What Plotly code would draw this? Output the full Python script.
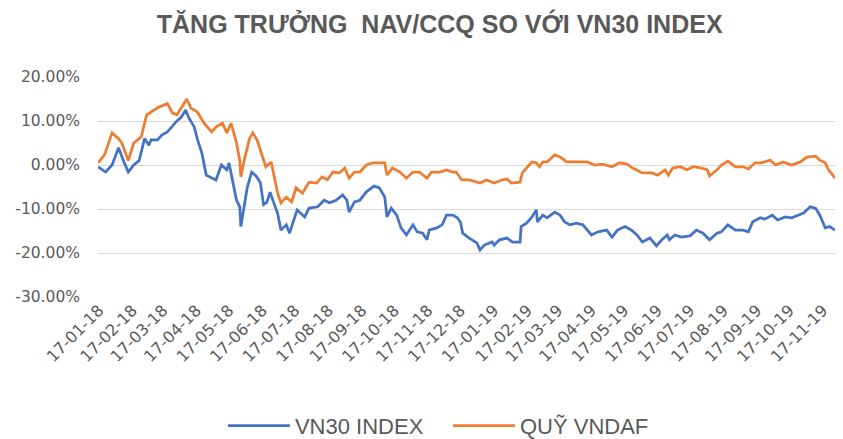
import plotly.graph_objects as go

# ---- data ----
vn30_dates = [
    "2018-01-16", "2018-01-23", "2018-01-29", "2018-02-04", "2018-02-09", "2018-02-13", "2018-02-18",
    "2018-02-23", "2018-02-28", "2018-03-04", "2018-03-06", "2018-03-12", "2018-03-16", "2018-03-21",
    "2018-03-25", "2018-03-29", "2018-04-03", "2018-04-07", "2018-04-10", "2018-04-15", "2018-04-18",
    "2018-04-22", "2018-04-26", "2018-05-01", "2018-05-05", "2018-05-10", "2018-05-15", "2018-05-17",
    "2018-05-20", "2018-05-24", "2018-05-27", "2018-05-28", "2018-05-31", "2018-06-03", "2018-06-07",
    "2018-06-11", "2018-06-15", "2018-06-18", "2018-06-21", "2018-06-24", "2018-06-28", "2018-07-01",
    "2018-07-04", "2018-07-09", "2018-07-12", "2018-07-16", "2018-07-19", "2018-07-26", "2018-07-30",
    "2018-08-07", "2018-08-13", "2018-08-18", "2018-08-24", "2018-08-30", "2018-09-03", "2018-09-05",
    "2018-09-10", "2018-09-15", "2018-09-21", "2018-09-28", "2018-10-03", "2018-10-08", "2018-10-10",
    "2018-10-14", "2018-10-19", "2018-10-23", "2018-10-28", "2018-11-03", "2018-11-07", "2018-11-12",
    "2018-11-16", "2018-11-18", "2018-11-25", "2018-11-30", "2018-12-04", "2018-12-10", "2018-12-14",
    "2018-12-17", "2018-12-19", "2018-12-25", "2019-01-01", "2019-01-04", "2019-01-08", "2019-01-15",
    "2019-01-17", "2019-01-22", "2019-01-29", "2019-02-03", "2019-02-10", "2019-02-11", "2019-02-16",
    "2019-02-21", "2019-02-25", "2019-02-26", "2019-03-03", "2019-03-07", "2019-03-14", "2019-03-19",
    "2019-03-23", "2019-03-28", "2019-04-03", "2019-04-09", "2019-04-17", "2019-04-23", "2019-05-01",
    "2019-05-06", "2019-05-11", "2019-05-18", "2019-05-24", "2019-05-29", "2019-06-03", "2019-06-10",
    "2019-06-16", "2019-06-21", "2019-06-26", "2019-06-28", "2019-07-03", "2019-07-09", "2019-07-17",
    "2019-07-23", "2019-07-29", "2019-08-04", "2019-08-11", "2019-08-15", "2019-08-21", "2019-08-28",
    "2019-09-04", "2019-09-09", "2019-09-13", "2019-09-20", "2019-09-24", "2019-10-01", "2019-10-06",
    "2019-10-13", "2019-10-19", "2019-10-25", "2019-10-30", "2019-11-05", "2019-11-10", "2019-11-14",
    "2019-11-19", "2019-11-23", "2019-11-28",
]
vn30_values = [
    -0.4, -1.6, 0.0, 3.9, 0.7, -1.6, 0.0,
    1.0, 6.0, 4.5, 5.7, 5.7, 6.8, 7.5,
    8.6, 9.8, 10.9, 12.5, 10.7, 8.6, 5.7,
    2.7, -2.3, -3.0, -3.4, 0.0, -1.1, 0.5,
    -3.4, -8.0, -9.5, -14.0, -9.5, -5.0, -1.6,
    -2.5, -4.0, -9.0, -8.5, -6.2, -9.0, -11.0,
    -14.8, -13.6, -15.5, -12.5, -10.2, -11.8, -9.8,
    -9.5, -8.0, -8.6, -8.0, -6.8, -8.0, -10.7,
    -8.4, -8.0, -6.1, -4.8, -5.2, -7.3, -11.8,
    -9.8, -11.4, -14.3, -15.9, -13.6, -15.2, -15.5,
    -17.0, -14.8, -14.3, -13.6, -11.4, -11.4, -12.0,
    -13.0, -15.5, -16.6, -17.7, -19.3, -18.2, -17.5,
    -18.2, -17.0, -16.6, -17.5, -17.5, -14.0, -13.2,
    -11.8, -10.2, -12.9, -11.4, -12.0, -10.7, -11.4,
    -12.9, -13.6, -13.2, -13.6, -15.9, -15.2, -14.8,
    -16.4, -14.8, -14.0, -14.8, -15.9, -17.5, -16.6,
    -18.4, -17.0, -15.9, -17.0, -15.9, -16.4, -16.1,
    -14.8, -15.5, -17.0, -15.5, -15.2, -13.6, -14.8,
    -14.8, -15.2, -12.9, -12.0, -12.3, -11.4, -12.5,
    -11.8, -12.0, -11.4, -10.9, -9.5, -9.8, -11.4,
    -14.3, -14.0, -14.8,
]

vndaf_dates = [
    "2018-01-16", "2018-01-22", "2018-01-29", "2018-02-04", "2018-02-07", "2018-02-13", "2018-02-18",
    "2018-02-25", "2018-02-28", "2018-03-02", "2018-03-12", "2018-03-21", "2018-03-26", "2018-03-30",
    "2018-04-03", "2018-04-08", "2018-04-12", "2018-04-18", "2018-04-24", "2018-05-01", "2018-05-05",
    "2018-05-11", "2018-05-15", "2018-05-19", "2018-05-24", "2018-05-27", "2018-05-28", "2018-05-31",
    "2018-06-05", "2018-06-08", "2018-06-12", "2018-06-17", "2018-06-20", "2018-06-25", "2018-06-28",
    "2018-07-01", "2018-07-04", "2018-07-09", "2018-07-14", "2018-07-18", "2018-07-24", "2018-07-30",
    "2018-08-06", "2018-08-11", "2018-08-16", "2018-08-21", "2018-08-27", "2018-09-01", "2018-09-05",
    "2018-09-10", "2018-09-15", "2018-09-21", "2018-09-27", "2018-10-03", "2018-10-08", "2018-10-10",
    "2018-10-15", "2018-10-22", "2018-10-28", "2018-11-03", "2018-11-09", "2018-11-16", "2018-11-20",
    "2018-11-28", "2018-12-04", "2018-12-10", "2018-12-13", "2018-12-18", "2018-12-25", "2019-01-04",
    "2019-01-10", "2019-01-17", "2019-01-24", "2019-01-29", "2019-02-02", "2019-02-10", "2019-02-12",
    "2019-02-17", "2019-02-21", "2019-02-25", "2019-02-28", "2019-03-03", "2019-03-07", "2019-03-14",
    "2019-03-19", "2019-03-25", "2019-03-31", "2019-04-06", "2019-04-13", "2019-04-20", "2019-04-27",
    "2019-05-06", "2019-05-13", "2019-05-20", "2019-05-25", "2019-06-03", "2019-06-12", "2019-06-17",
    "2019-06-24", "2019-06-27", "2019-07-01", "2019-07-08", "2019-07-14", "2019-07-20", "2019-07-28",
    "2019-08-02", "2019-08-04", "2019-08-11", "2019-08-15", "2019-08-21", "2019-08-28", "2019-09-04",
    "2019-09-09", "2019-09-15", "2019-09-21", "2019-09-29", "2019-10-04", "2019-10-11", "2019-10-19",
    "2019-10-27", "2019-11-02", "2019-11-10", "2019-11-14", "2019-11-19", "2019-11-22", "2019-11-26",
    "2019-11-28",
]
vndaf_values = [
    0.5, 2.3, 7.3, 6.0, 5.0, 1.0, 5.0,
    6.4, 9.5, 11.4, 13.0, 14.0, 11.8, 11.4,
    13.0, 15.0, 12.9, 12.0, 9.5, 7.5, 8.6,
    9.5, 7.3, 9.5, 5.0, 1.0, -2.7, 1.0,
    6.0, 7.3, 5.7, 1.8, -0.4, 0.7, -2.7,
    -6.4, -8.6, -7.3, -8.4, -5.2, -6.4, -3.9,
    -4.1, -2.7, -3.4, -1.6, -1.8, -0.7, -3.0,
    -1.6, -1.6, 0.0, 0.5, 0.5, 0.5, -2.3,
    -0.7, -1.6, -3.0, -1.6, -1.6, -3.0, -1.6,
    -1.6, -1.1, -1.6, -1.6, -3.4, -3.4, -4.1,
    -3.4, -4.1, -3.4, -3.2, -4.1, -3.9, -1.8,
    -0.4, 0.7, 0.5, -0.4, 0.7, 0.7, 2.3,
    1.8, 0.7, 0.7, 0.7, 0.7, 0.0, 0.2,
    -0.4, 0.5, 0.2, -0.7, -1.8, -1.8, -2.3,
    -1.1, -2.3, -0.7, -0.4, -1.1, -0.4, -0.7,
    -1.1, -2.5, -1.1, 0.0, 0.9, -0.4, -0.4,
    -0.9, 0.5, 0.5, 1.1, 0.0, 0.7, 0.0,
    0.7, 1.8, 2.0, 1.1, 0.5, -1.1, -2.3,
    -3.0,
]

y_tick_vals = [20, 10, 0, -10, -20, -30]
y_tick_text = ["20.00%", "10.00%", "0.00%", "-10.00%", "-20.00%", "-30.00%"]

series_names = ["VN30 INDEX", "QUỸ VNDAF"]
title_text = "TĂNG TRƯỞNG  NAV/CCQ SO VỚI VN30 INDEX"

BLUE = "#4472C4"
ORANGE = "#ED7D31"
GREY_TEXT = "#595959"
TITLE_FONT = "Liberation Sans, Arial, sans-serif"
TICK_FONT = "DejaVu Sans, sans-serif"

fig = go.Figure()
fig.add_trace(go.Scatter(x=vn30_dates, y=vn30_values, mode="lines", name=series_names[0],
                         line=dict(color=BLUE, width=2.75)))
fig.add_trace(go.Scatter(x=vndaf_dates, y=vndaf_values, mode="lines", name=series_names[1],
                         line=dict(color=ORANGE, width=2.75)))

# the page body has an 8px margin, so the figure is sized/offset to fill the 843x439 window
fig.update_layout(
    width=835, height=431,
    margin=dict(l=90, r=8, t=69, b=142, autoexpand=False),
    paper_bgcolor="white", plot_bgcolor="white",
    title=dict(text="<b>" + title_text + "</b>", x=0.517, xanchor="center", y=0.962, yanchor="middle",
               font=dict(family=TITLE_FONT, size=25, color=GREY_TEXT)),
    showlegend=True,
    legend=dict(orientation="h", x=0.1695, xanchor="left", y=-0.586, yanchor="middle",
                font=dict(family=TITLE_FONT, size=22, color=GREY_TEXT), itemwidth=62,
                traceorder="normal", entrywidth=148),
    font=dict(family=TICK_FONT, color=GREY_TEXT),
)
fig.update_xaxes(
    type="date", range=["2018-01-16", "2019-11-28"],
    tick0="2018-01-17", dtick="M1", tickformat="%d-%m-%y", tickangle=-45,
    showgrid=False, showline=False, zeroline=False, ticks="", automargin=False,
    tickfont=dict(family=TICK_FONT, size=16, color=GREY_TEXT),
)
fig.update_yaxes(
    range=[-30, 20], tickvals=y_tick_vals, ticktext=y_tick_text,
    showgrid=True, gridcolor="#D9D9D9", gridwidth=1, zeroline=False, showline=False, ticks="",
    automargin=False,
    tickfont=dict(family=TICK_FONT, size=15.5, color=GREY_TEXT), ticklabelstandoff=17,
)

fig.write_html("out.html")
